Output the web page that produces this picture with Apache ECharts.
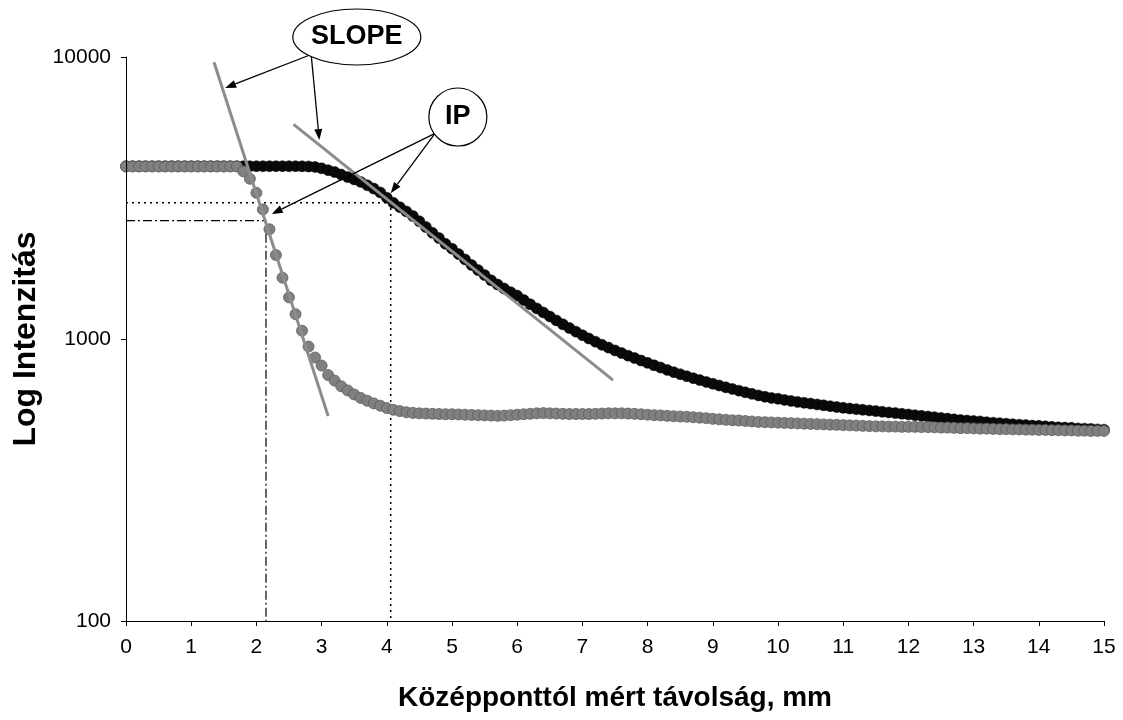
<!DOCTYPE html>
<html><head><meta charset="utf-8">
<script src="https://cdn.jsdelivr.net/npm/echarts@6/dist/echarts.min.js"></script>
<style>html,body{margin:0;padding:0;background:#fff}#c{width:1123px;height:720px}</style>
</head><body><div id="c"></div>
<script>
// distance from centre, mm
const distances = [
0,0.1,0.2,0.3,0.4,0.5,0.6,0.7,0.8,0.9,
1,1.1,1.2,1.3,1.4,1.5,1.6,1.7,1.8,1.9,
2,2.1,2.2,2.3,2.4,2.5,2.6,2.7,2.8,2.9,
3,3.1,3.2,3.3,3.4,3.5,3.6,3.7,3.8,3.9,
4,4.1,4.2,4.3,4.4,4.5,4.6,4.7,4.8,4.9,
5,5.1,5.2,5.3,5.4,5.5,5.6,5.7,5.8,5.9,
6,6.1,6.2,6.3,6.4,6.5,6.6,6.7,6.8,6.9,
7,7.1,7.2,7.3,7.4,7.5,7.6,7.7,7.8,7.9,
8,8.1,8.2,8.3,8.4,8.5,8.6,8.7,8.8,8.9,
9,9.1,9.2,9.3,9.4,9.5,9.6,9.7,9.8,9.9,
10,10.1,10.2,10.3,10.4,10.5,10.6,10.7,10.8,10.9,
11,11.1,11.2,11.3,11.4,11.5,11.6,11.7,11.8,11.9,
12,12.1,12.2,12.3,12.4,12.5,12.6,12.7,12.8,12.9,
13,13.1,13.2,13.3,13.4,13.5,13.6,13.7,13.8,13.9,
14,14.1,14.2,14.3,14.4,14.5,14.6,14.7,14.8,14.9,
15];

// black profile (wide)
const intensityWide = [
4100,4100,4100,4100,4100,4100,4100,4100,4100,4100,
4100,4100,4100,4100,4100,4100,4100,4100,4100,4100,
4100,4100,4100,4100,4100,4100,4100,4095,4090,4075,
4030,3970,3910,3830,3750,3680,3605,3510,3415,3310,
3170,3040,2935,2835,2730,2615,2495,2380,2280,2175,
2090,2000,1915,1830,1755,1685,1615,1560,1510,1465,
1425,1375,1328,1284,1242,1202,1164,1128,1094,1062,
1032,1004,978,954,932,911,892,873,856,839,
823,807,792,777,763,750,738,726,715,704,
694,684,674,665,656,647,639,631,624,618,
614,608,603,598,594,590,586,582,578,574,
570,567,564,561,558,555,552,549,546,543,
540,537,534,531,528,525,522,519,516,514,
512,510,507,505,503,501,499,497,495,493,
492,490,488,486,485,484,482,481,480,478,
477];

// grey profile (narrow)
const intensityNarrow = [
4090,4090,4090,4090,4090,4090,4090,4090,4090,4090,
4090,4090,4090,4090,4090,4090,4090,4090,3930,3700,
3300,2880,2450,1985,1650,1405,1225,1070,940,860,
805,745,712,680,657,636,618,604,591,580,
569,561,555,550,547,545,544,543,542,541,
541,540,539,538,537,536,535,534,535,537,
539,541,543,545,546,545,544,543,542,542,
542,542,543,544,545,545,545,544,543,541,
539,537,536,534,532,531,530,528,526,524,
521,519,517,515,514,512,510,508,507,506,
505,504,503,502,501,500,499,498,497,496,
495,494,493,492,491,490,490,489,489,488,
488,488,487,487,486,485,485,484,483,483,
482,481,481,480,479,479,478,478,477,477,
476,476,475,475,474,474,473,473,472,472,
472];

// fitted slope lines (mm, intensity)
const slopeNarrow = [[1.35, 9576], [3.10, 533]];
const slopeWide = [[2.57, 5772], [7.47, 715]];
// inflection points (mm, intensity)
const ipNarrow = [2.147, 2627];
const ipWide = [4.06, 3043];

const xTitle = 'Középponttól mért távolság, mm';
const yTitle = 'Log Intenzitás';
const slopeText = 'SLOPE';
const ipText = 'IP';

// annotation anchors (mm, intensity)
const slopeLabelAt = [3.54, 11775];
const ipLabelAt = [5.09, 6126];
const slopeArrowFrom = [2.84, 10206];
const slopeArrowTo = [[1.52, 7766], [2.965, 5078]];
const ipArrowFrom = [4.74, 5362];
const ipArrowTo = [[2.235, 2775], [4.06, 3287]];

const FONT = 'Arial, "Liberation Sans", sans-serif';
const chart = echarts.init(document.getElementById('c'));
const floor = 100;

const option = {
  animation: false,
  backgroundColor: '#fff',
  grid: { left: 126, right: 19, top: 57, bottom: 99 },
  xAxis: {
    type: 'value', min: 0, max: 15, interval: 1, z: 5,
    name: xTitle, nameLocation: 'middle', nameGap: 63,
    nameTextStyle: { fontFamily: FONT, fontWeight: 'bold', fontSize: 28, color: '#000' },
    axisLine: { onZero: false, lineStyle: { color: '#000', width: 1 } },
    axisTick: { show: true, length: 5, lineStyle: { color: '#000' } },
    axisLabel: { fontFamily: FONT, fontSize: 21, color: '#000', margin: 16 },
    splitLine: { show: false }
  },
  yAxis: {
    type: 'log', logBase: 10, min: 100, max: 10000, z: 5,
    name: yTitle, nameLocation: 'middle', nameGap: 75, nameRotate: 90,
    nameTextStyle: { fontFamily: FONT, fontWeight: 'bold', fontSize: 32, color: '#000' },
    axisLine: { show: true, lineStyle: { color: '#000', width: 1 } },
    axisTick: { show: true, length: 5, lineStyle: { color: '#000' } },
    axisLabel: { fontFamily: FONT, fontSize: 21, color: '#000', margin: 15, formatter: v => String(Math.round(v)) },
    splitLine: { show: false },
    minorTick: { show: false }
  },
  series: [
    { type: 'line', silent: true, symbol: 'none', clip: false, z: 1,
      data: [[0, ipWide[1]], ipWide, [ipWide[0], floor]],
      lineStyle: { color: '#000', width: 1.5, type: [2, 4] } },
    { type: 'line', silent: true, symbol: 'none', clip: false, z: 1,
      data: [[0, ipNarrow[1]], ipNarrow, [ipNarrow[0], floor]],
      lineStyle: { color: '#000', width: 1.2, type: [9, 3, 2, 3] } },
    { type: 'scatter', silent: true, clip: false, z: 2, symbol: 'circle', symbolSize: 11,
      data: distances.map((x, i) => [x, intensityWide[i]]),
      itemStyle: { color: '#0a0a0a', borderColor: '#000', borderWidth: 0.5, opacity: 1 } },
    { type: 'scatter', silent: true, clip: false, z: 3, symbol: 'circle', symbolSize: 11,
      data: distances.map((x, i) => [x, intensityNarrow[i]]),
      itemStyle: { color: '#808080', borderColor: '#5c5c5c', borderWidth: 0.8, opacity: 1 } },
    { type: 'line', silent: true, symbol: 'none', clip: false, z: 4,
      data: slopeNarrow, lineStyle: { color: '#8c8c8c', width: 3 } },
    { type: 'line', silent: true, symbol: 'none', clip: false, z: 4,
      data: slopeWide, lineStyle: { color: '#8c8c8c', width: 3 } }
  ]
};
chart.setOption(option);

const P = (pt) => chart.convertToPixel({ gridIndex: 0 }, pt);
function arrow(from, to) {
  const [x1, y1] = P(from), [x2, y2] = P(to);
  const a = Math.atan2(y2 - y1, x2 - x1), L = 11, W = 4;
  const bx = x2 - L * Math.cos(a), by = y2 - L * Math.sin(a);
  return [
    { type: 'line', z: 50, silent: true, shape: { x1, y1, x2: bx, y2: by }, style: { stroke: '#000', lineWidth: 1.3 } },
    { type: 'polygon', z: 50, silent: true, shape: { points: [[x2, y2], [bx + W * Math.sin(a), by - W * Math.cos(a)], [bx - W * Math.sin(a), by + W * Math.cos(a)]] }, style: { fill: '#000' } }
  ];
}
const [scx, scy] = P(slopeLabelAt);
const [icx, icy] = P(ipLabelAt);
let g = [];
slopeArrowTo.forEach(t => { g = g.concat(arrow(slopeArrowFrom, t)); });
ipArrowTo.forEach(t => { g = g.concat(arrow(ipArrowFrom, t)); });
g.push({ type: 'ellipse', z: 60, silent: true, shape: { cx: scx, cy: scy, rx: 64, ry: 28 }, style: { fill: '#fff', stroke: '#000', lineWidth: 1.2 } });
g.push({ type: 'text', z: 61, silent: true, x: scx, y: scy, style: { text: slopeText, font: 'bold 27px ' + FONT, fill: '#000', textAlign: 'center', textVerticalAlign: 'middle' } });
g.push({ type: 'circle', z: 60, silent: true, shape: { cx: icx, cy: icy, r: 29 }, style: { fill: '#fff', stroke: '#000', lineWidth: 1.2 } });
g.push({ type: 'text', z: 61, silent: true, x: icx, y: icy, style: { text: ipText, font: 'bold 27px ' + FONT, fill: '#000', textAlign: 'center', textVerticalAlign: 'middle' } });
chart.setOption({ graphic: g });
</script>
</body></html>
